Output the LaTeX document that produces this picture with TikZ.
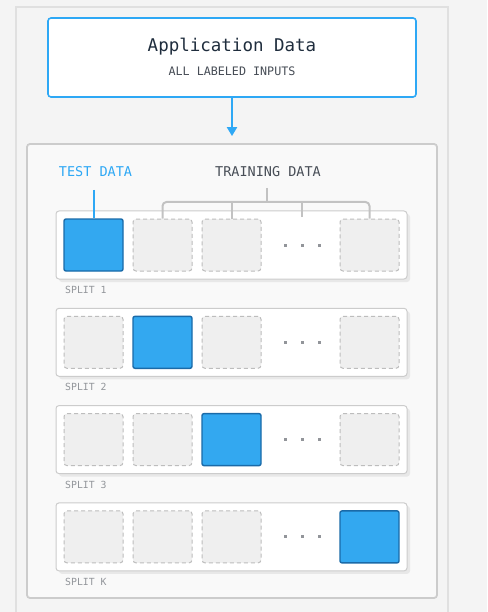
\documentclass[tikz,border=0pt]{standalone}
\usepackage{fontspec}
\setmonofont{DejaVu Sans Mono}
\usetikzlibrary{arrows.meta, positioning, shadows}

\definecolor{pagebg}{HTML}{F4F4F4}
\definecolor{paneledge}{HTML}{E0E0E0}
\definecolor{innerbg}{HTML}{F9F9F9}
\definecolor{inneredge}{HTML}{CCCCCC}
\definecolor{appblue}{HTML}{2EA8F5}
\definecolor{testfill}{HTML}{33A8F0}
\definecolor{testedge}{HTML}{1A6AA8}
\definecolor{trainfill}{HTML}{EFEFEF}
\definecolor{trainedge}{HTML}{BDBDBD}
\definecolor{bracketgray}{HTML}{C2C2C2}
\definecolor{titleink}{HTML}{1F2D3D}
\definecolor{labelink}{HTML}{474D56}
\definecolor{splitink}{HTML}{92959A}
\definecolor{shadowgray}{HTML}{E8E8E8}

\tikzset{
    appbox/.style={draw=appblue, line width=1.6pt, fill=white, rounded corners=3pt,
        minimum width=368pt, minimum height=79pt},
    innerpanel/.style={draw=inneredge, line width=1.8pt, fill=innerbg, rounded corners=3pt,
        minimum width=410pt, minimum height=454pt},
    rowbox/.style={draw=inneredge, line width=1pt, fill=white, rounded corners=3pt,
        minimum width=351pt, minimum height=68pt,
        drop shadow={shadow xshift=3pt, shadow yshift=-3pt, fill=shadowgray, opacity=1}},
    testsq/.style={draw=testedge, line width=1.4pt, fill=testfill, rounded corners=2pt,
        minimum width=59pt, minimum height=52pt},
    trainsq/.style={draw=trainedge, line width=1pt, dash pattern=on 4pt off 3pt,
        fill=trainfill, rounded corners=3pt, minimum width=59pt, minimum height=52pt},
    bracket/.style={draw=bracketgray, line width=2pt, rounded corners=4pt},
    splitlabel/.style={font=\fontsize{9.8}{11}\selectfont\ttfamily, text=splitink, anchor=west, inner sep=0pt}
}

\begin{document}
\begin{tikzpicture}[x=1pt, y=-1pt]
    \useasboundingbox (0,0) rectangle (487,612);
    % Background and outer panel
    \fill[pagebg] (0,0) rectangle (487,612);
    \draw[paneledge, line width=1.2pt] (16,612) -- (16,7) -- (448,7) -- (448,612);

    % Application data box
    \node[appbox] (app) at (232,57.5) {};
    \node[font=\fontsize{17.5}{20}\selectfont\ttfamily, text=titleink] (apptitle) at (232,47) {Application Data};
    \node[font=\fontsize{11.7}{13}\selectfont\ttfamily, text=labelink] (appsub) at (232,71) {ALL LABELED INPUTS};

    % Panel holding the splits
    \node[innerpanel] (inner) at (232,371) {};
    \draw[appblue, line width=2pt, -{Triangle[length=9pt,width=10pt]}, shorten >=7pt] (app.south) -- (inner.north);

    % One row per split, blue square is the test fold
    \foreach \r/\b/\lab in {1/1/1, 2/2/2, 3/3/3, 4/4/K} {
        \pgfmathsetmacro{\yc}{245+97.3*(\r-1)}
        \node[rowbox] (row\r) at (231.5,\yc) {};
        \foreach \c/\xc in {1/93.5, 2/162.5, 3/231.5, 4/369.5} {
            \ifnum\c=\b \def\sqstyle{testsq}\else\def\sqstyle{trainsq}\fi
            \node[\sqstyle] (sq\r-\c) at (\xc,\yc) {};
        }
        % dots for the folds in between
        \foreach \dx in {285, 302, 319}
            \fill[splitink] (\dx-1.5,\yc-1.5) rectangle ++(3,3);
        \node[splitlabel] (split\r) at (65,\yc+45) {SPLIT \lab};
    }

    % Labels above the first split
    \node[font=\fontsize{13.5}{15}\selectfont\ttfamily, text=appblue] (test) at (95.5,172) {TEST DATA};
    \node[font=\fontsize{13.5}{15}\selectfont\ttfamily, text=labelink] (train) at (268,172) {TRAINING DATA};
    \coordinate (testtip) at (93.5,190);
    \draw[appblue, line width=2pt] (testtip) -- (sq1-1.north);

    % Bracket over the training folds
    \coordinate (trainstem) at (267,188);
    \coordinate (trainjoin) at (267,202);
    \coordinate (gap1) at (302,217);
    \draw[bracket] (trainstem) -- (trainjoin);
    \draw[bracket] (sq1-2.north) -- (sq1-2.north |- trainjoin) -- (sq1-4.north |- trainjoin) -- (sq1-4.north);
    \draw[bracket] (sq1-3.north) -- (sq1-3.north |- trainjoin);
    \draw[bracket] (gap1) -- (gap1 |- trainjoin);
\end{tikzpicture}
\end{document}
